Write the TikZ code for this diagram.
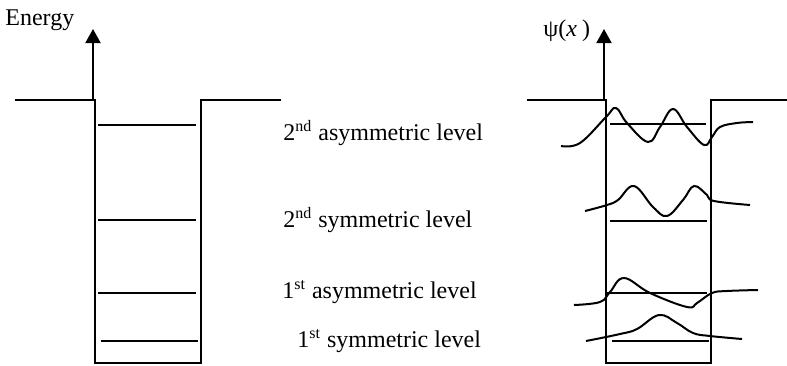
\documentclass[tikz,border=0pt]{standalone}
\usepackage{fontspec}
\setmainfont{Liberation Serif}
\usetikzlibrary{arrows.meta}
\begin{document}
\begin{tikzpicture}[x=0.5pt,y=-0.5pt,
    well/.style={line width=1pt},
    lvl/.style={line width=1pt},
    wave/.style={line width=1pt, smooth, tension=0.65},
    axisarrow/.style={line width=1pt, -{Triangle[length=7pt,width=7.5pt]}},
    lbl/.style={anchor=base west, inner sep=0pt, font=\fontsize{12}{14}\selectfont}]
        \useasboundingbox (0,0) rectangle (787,365);
        % Left well (bottom to top)
        \coordinate (la) at (93,100);
        \coordinate (lt) at (93,29);
        \draw[well] (15,100) -- (95,100) -- (95,363) -- (201,363) -- (201,100) -- (281,100);
        \draw[axisarrow] (la) -- (lt);
        \node (energy) at (5,25) [lbl] {Energy};
        \draw[lvl] (101,341) -- (198,341);
        \draw[lvl] (98,293) -- (196,293);
        \draw[lvl] (98,220) -- (196,220);
        \draw[lvl] (98,125) -- (196,125);
        % Labels
        \node (s1) at (297,347) [lbl] {1\textsuperscript{st} symmetric level};
        \node (a1) at (282,298) [lbl] {1\textsuperscript{st} asymmetric level};
        \node (s2) at (283,227) [lbl] {2\textsuperscript{nd} symmetric level};
        \node (a2) at (283,140) [lbl] {2\textsuperscript{nd} asymmetric level};
        % Right well
        \coordinate (ra) at (604,100);
        \coordinate (rt) at (604,29);
        \draw[well] (527,100) -- (606,100) -- (606,363) -- (711,363) -- (711,100) -- (787,100);
        \draw[axisarrow] (ra) -- (rt);
        \node (psi) at (543,36) [lbl] {ψ(\textit{x}\hspace{2.5pt})};
        \draw[lvl] (612,341) -- (709,341);
        \draw[lvl] (606,293) -- (707,293);
        \draw[lvl] (610,221) -- (707,221);
        \draw[lvl] (610,124) -- (706,124);
        % Wave functions
        \draw[wave] plot coordinates {(586,341) (620,334) (637,329) (659,315) (677,323) (693,333) (710,336) (742,339)};
        \draw[wave] plot coordinates {(574,305) (600,302) (610,292) (624,278) (650,293) (687,307) (697,303) (712,293) (727,291) (758,290)};
        \draw[wave] plot coordinates {(585,211) (607,205) (618,200) (634,186) (653,207) (667,216) (683,200) (694,186) (707,195) (714,201) (750,205)};
        \draw[wave] plot coordinates {(561,146) (580,143) (606,117) (616,108) (627,123) (648,142) (660,127) (673,109) (687,127) (704,145) (712,137) (720,127) (737,123) (753,122)};
\end{tikzpicture}
\end{document}
